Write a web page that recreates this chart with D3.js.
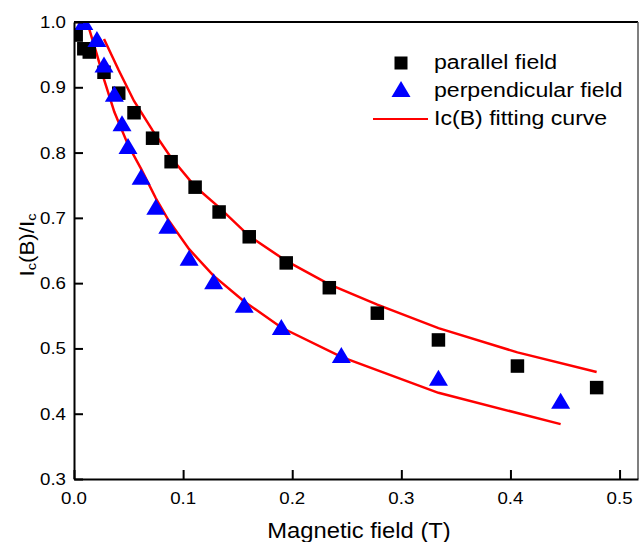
<!DOCTYPE html>
<html>
<head>
<meta charset="utf-8">
<script src="https://cdn.jsdelivr.net/npm/d3@7"></script>
<style>
  html, body { margin: 0; padding: 0; background: #fff; }
  svg { display: block; font-family: Arial, "Liberation Sans", sans-serif; }
</style>
</head>
<body>
<svg id="chart" width="639" height="542"></svg>
<script>
// ---- data ----
const parallelX = [0.002, 0.009, 0.014, 0.0275, 0.041, 0.055, 0.072, 0.089, 0.111, 0.133, 0.1606, 0.1945, 0.234, 0.278, 0.334, 0.4064, 0.479];
const parallelY = [0.980, 0.959, 0.954, 0.923, 0.891, 0.861, 0.822, 0.786, 0.747, 0.709, 0.671, 0.631, 0.593, 0.554, 0.513, 0.473, 0.440];

const perpX = [0.009, 0.021, 0.0275, 0.037, 0.044, 0.0495, 0.0615, 0.075, 0.086, 0.1055, 0.128, 0.156, 0.190, 0.245, 0.334, 0.446];
const perpY = [1.000, 0.974, 0.935, 0.890, 0.845, 0.810, 0.763, 0.717, 0.688, 0.639, 0.603, 0.567, 0.533, 0.490, 0.455, 0.420];

const fitParX = [0.0275, 0.041, 0.055, 0.072, 0.089, 0.111, 0.133, 0.1606, 0.1945, 0.234, 0.278, 0.334, 0.4064, 0.479];
const fitParY = [0.974, 0.926, 0.879, 0.834, 0.792, 0.748, 0.716, 0.672, 0.634, 0.598, 0.567, 0.531, 0.494, 0.464];

const fitPerpX = [0.002, 0.012, 0.021, 0.0275, 0.037, 0.044, 0.0495, 0.0615, 0.075, 0.086, 0.1055, 0.128, 0.156, 0.190, 0.245, 0.334, 0.446];
const fitPerpY = [1.000, 1.000, 0.950, 0.912, 0.862, 0.834, 0.812, 0.775, 0.730, 0.698, 0.652, 0.611, 0.572, 0.532, 0.487, 0.432, 0.384];

const xTicks = [0.0, 0.1, 0.2, 0.3, 0.4, 0.5];
const yTicks = [0.3, 0.4, 0.5, 0.6, 0.7, 0.8, 0.9, 1.0];
const legendLabels = ["parallel field", "perpendicular field", "Ic(B) fitting curve"];

// ---- layout ----
const svg = d3.select("#chart");
const mLeft = 74, mRight = 638, mTop = 22, mBottom = 479;
const x = d3.scaleLinear().domain([0, 0.5169]).range([mLeft, mRight]);
const y = d3.scaleLinear().domain([0.3, 1.0]).range([mBottom, mTop]);

svg.append("defs").append("clipPath").attr("id", "plotclip")
  .append("rect").attr("x", mLeft).attr("y", mTop).attr("width", mRight - mLeft).attr("height", mBottom - mTop);

function stretchText(g, px, py, str, size, sx, anchor) {
  return g.append("text")
    .attr("transform", `translate(${px},${py}) scale(${sx},1)`)
    .attr("text-anchor", anchor)
    .attr("font-size", size)
    .attr("fill", "#000")
    .text(str);
}

// plot content (drawn first so axes sit above)
const plot = svg.append("g").attr("clip-path", "url(#plotclip)");

const line = d3.line().x(d => x(d[0])).y(d => y(d[1])).curve(d3.curveLinear);
plot.append("path").datum(d3.zip(fitParX, fitParY)).attr("d", line)
  .attr("fill", "none").attr("stroke", "#ff0000").attr("stroke-width", 2.5);
plot.append("path").datum(d3.zip(fitPerpX, fitPerpY)).attr("d", line)
  .attr("fill", "none").attr("stroke", "#ff0000").attr("stroke-width", 2.5);

const sq = 13.5;
plot.selectAll("rect.par").data(d3.zip(parallelX, parallelY)).enter().append("rect")
  .attr("x", d => x(d[0]) - sq / 2).attr("y", d => y(d[1]) - sq / 2)
  .attr("width", sq).attr("height", sq).attr("fill", "#000");

const tw = 19, th = 16;
const tri = (cx, cy) => `M${cx},${cy - th / 2}L${cx + tw / 2},${cy + th / 2}L${cx - tw / 2},${cy + th / 2}Z`;
plot.selectAll("path.perp").data(d3.zip(perpX, perpY)).enter().append("path")
  .attr("d", d => tri(x(d[0]), y(d[1]))).attr("fill", "#0000ff");

// frame: top & right
svg.append("line").attr("x1", mLeft).attr("x2", mRight).attr("y1", mTop).attr("y2", mTop)
  .attr("stroke", "#000").attr("stroke-width", 2);
svg.append("line").attr("x1", mRight).attr("x2", mRight).attr("y1", mTop).attr("y2", mBottom)
  .attr("stroke", "#555").attr("stroke-width", 1.5);

// x axis (ticks pointing inward)
const xAxis = svg.append("g").attr("transform", `translate(0,${mBottom})`)
  .call(d3.axisBottom(x).tickValues(xTicks).tickSizeInner(-9).tickSizeOuter(0).tickFormat(""));
xAxis.select(".domain").attr("stroke", "#000").attr("stroke-width", 2);
xAxis.selectAll(".tick line").attr("stroke", "#000").attr("stroke-width", 2);
const xLab = svg.append("g");
xTicks.forEach(v => stretchText(xLab, x(v), 504, d3.format(".1f")(v), 17, 1.1, "middle"));

// y axis
const yAxis = svg.append("g").attr("transform", `translate(${mLeft},0)`)
  .call(d3.axisLeft(y).tickValues(yTicks).tickSizeInner(-9).tickSizeOuter(0).tickFormat(""));
yAxis.select(".domain").attr("stroke", "#000").attr("stroke-width", 2);
yAxis.selectAll(".tick line").attr("stroke", "#000").attr("stroke-width", 2);
const yLab = svg.append("g");
yTicks.forEach(v => stretchText(yLab, 66, y(v) + 6, d3.format(".1f")(v), 17, 1.1, "end"));

// axis titles
stretchText(svg, (mLeft + mRight) / 2 + 3, 538, "Magnetic field (T)", 22, 1.08, "middle");

const yt = svg.append("text")
  .attr("transform", `translate(34,245) rotate(-90) scale(1.12,1)`)
  .attr("text-anchor", "middle").attr("font-size", 20).attr("fill", "#000");
yt.append("tspan").text("I");
yt.append("tspan").attr("font-size", 13).attr("dy", 2).text("c");
yt.append("tspan").attr("dy", -2).text("(B)/I");
yt.append("tspan").attr("font-size", 13).attr("dy", 2).text("c");

// legend
const lg = svg.append("g");
lg.append("rect").attr("x", 401 - 6.5).attr("y", 63 - 6.5).attr("width", 13).attr("height", 13).attr("fill", "#000");
lg.append("path").attr("d", tri(401, 89)).attr("fill", "#0000ff");
lg.append("line").attr("x1", 373).attr("x2", 428).attr("y1", 119).attr("y2", 119)
  .attr("stroke", "#ff0000").attr("stroke-width", 2);
stretchText(lg, 434, 69, legendLabels[0], 21, 1.1, "start");
stretchText(lg, 434, 97, legendLabels[1], 21, 1.1, "start");
stretchText(lg, 434, 125, legendLabels[2], 21, 1.1, "start");
</script>
</body>
</html>
